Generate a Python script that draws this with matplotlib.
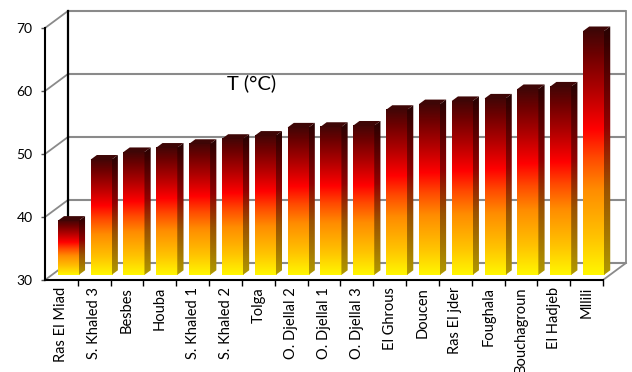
import numpy as np
import matplotlib.pyplot as plt
from matplotlib.colors import LinearSegmentedColormap
from matplotlib.patches import Polygon

plt.rcParams['font.family'] = ['Lato', 'DejaVu Sans']

# stations and measured water temperature
stations = ["Ras El Miad", "S. Khaled 3", "Besbes", "Houba", "S. Khaled 1",
            "S. Khaled 2", "Tolga", "O. Djellal 2", "O. Djellal 1", "O. Djellal 3",
            "El Ghrous", "Doucen", "Ras El jder", "Foughala", "Bouchagroun",
            "El Hadjeb", "Mllili"]
temps = [38.6, 48.3, 49.5, 50.2, 50.8, 51.6, 52.1, 53.4, 53.5, 53.7,
         56.2, 57.1, 57.6, 58.0, 59.5, 59.9, 68.7]
yticks = [30, 40, 50, 60, 70]

ymin, ymax = 30, 70
# depth of the 3d box in data units (x: categories, y: values)
DX, DY = 0.70, 2.7

front_stops = [(0.0, "#fff700"), (0.15, "#ffc400"), (0.35, "#ff8c00"),
               (0.48, "#ff4a00"), (0.60, "#ff0000"), (0.76, "#b00000"),
               (0.90, "#700000"), (1.0, "#420606")]
side_stops = [(0.0, "#b09a00"), (0.15, "#a67a00"), (0.35, "#9a5200"),
              (0.48, "#962800"), (0.60, "#900000"), (0.76, "#640000"),
              (0.90, "#400000"), (1.0, "#260303")]
cm_front = LinearSegmentedColormap.from_list("front", front_stops)
cm_side = LinearSegmentedColormap.from_list("side", side_stops)

fig = plt.figure(figsize=(6.32, 3.72), dpi=100)
ax = fig.add_axes([45 / 632, 92 / 372, 581 / 632, 269 / 372])
n = len(stations)
xl, xr = -0.5, n - 0.5

for s in ax.spines.values():
    s.set_visible(False)

grid_c = "#8a8a8a"
# back wall gridlines + left wall diagonals
for v in yticks:
    ax.plot([xl + DX, xr + DX], [v + DY, v + DY], color=grid_c, lw=1.5,
            zorder=1, clip_on=False, solid_capstyle="butt")
    ax.plot([xl, xl + DX], [v, v + DY], color=grid_c, lw=1.3, zorder=1,
            clip_on=False)
ax.plot([xl + DX, xl + DX], [ymin + DY, ymax + DY], color="black", lw=1.6,
        zorder=2, clip_on=False)
ax.plot([xr + DX, xr + DX], [ymin + DY, ymax + DY], color=grid_c, lw=1.3,
        zorder=1, clip_on=False)
ax.plot([xr, xr + DX], [ymin, ymin + DY], color=grid_c, lw=1.3, zorder=1,
        clip_on=False)

# front axes
ax.plot([xl, xl], [ymin, ymax], color="black", lw=1.5, zorder=6, clip_on=False)
ax.plot([xl, xr], [ymin, ymin], color="black", lw=1.5, zorder=6, clip_on=False)

# bars
d0 = 0.30
w = 0.64
sdx, sdy = 0.19, 0.73
grad = np.linspace(0, 1, 256).reshape(-1, 1)
for i, v in enumerate(temps):
    x0 = i - w / 2 + d0 * DX
    yb = ymin + d0 * DY
    yt = v + d0 * DY
    ax.imshow(grad, extent=(x0, x0 + w, yb, yt), origin="lower",
              aspect="auto", cmap=cm_front, zorder=4, interpolation="bilinear")
    side = Polygon([(x0 + w, yb), (x0 + w + sdx, yb + sdy),
                    (x0 + w + sdx, yt + sdy), (x0 + w, yt)],
                   closed=True, facecolor="none", edgecolor="none")
    ax.add_patch(side)
    im = ax.imshow(grad, extent=(x0 + w, x0 + w + sdx, yb, yt + sdy),
                   origin="lower", aspect="auto", cmap=cm_side, zorder=4,
                   interpolation="bilinear")
    im.set_clip_path(side)
    top = Polygon([(x0, yt), (x0 + w, yt), (x0 + w + sdx, yt + sdy),
                   (x0 + sdx, yt + sdy)], closed=True, facecolor="#3e0606",
                  edgecolor="none", zorder=5)
    ax.add_patch(top)

ax.set_xlim(xl, xr + DX)
ax.set_ylim(ymin, ymax + DY)

ax.set_yticks(yticks)
ax.set_yticklabels([str(t) for t in yticks], fontsize=10)
ax.tick_params(axis="y", length=3, width=1, color="#555555", pad=6)

ax.set_xticks(range(n))
ax.set_xticklabels(stations, rotation=90, fontsize=10.5, va="top")
ax.set_xticks(np.arange(xl + 1, xr + 0.01, 1), minor=True)
ax.tick_params(axis="x", which="major", length=0, pad=5)
ax.tick_params(axis="x", which="minor", length=4, width=1, color="black")

ax.text(5.8, 61.3, "T (°C)", fontsize=14.5, ha="center", va="center", zorder=7)

fig.savefig("out.png", dpi=100)
